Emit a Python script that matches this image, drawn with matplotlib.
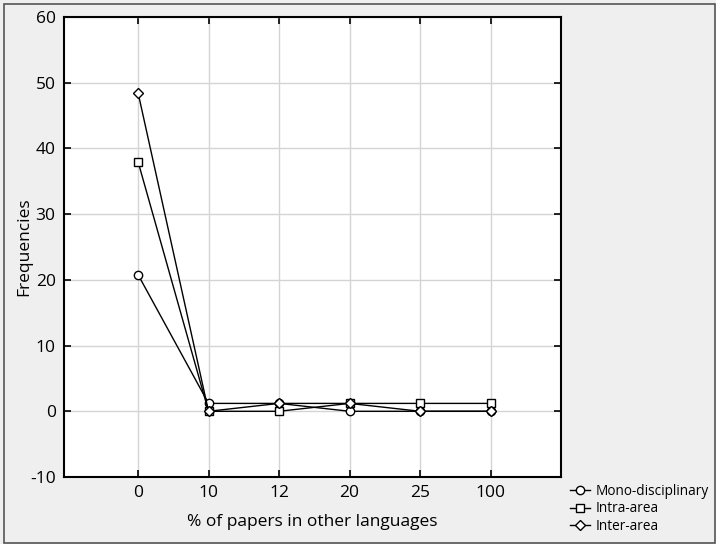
import matplotlib
matplotlib.use("Agg")
import matplotlib.pyplot as plt
from matplotlib.patches import Rectangle

categories = ["0", "10", "12", "20", "25", "100"]
mono = [20.8, 1.2, 1.2, 0.0, 0.0, 0.0]
intra = [38.0, 0.0, 0.0, 1.2, 1.2, 1.2]
inter = [48.5, 0.0, 1.2, 1.2, 0.0, 0.0]
yticks = [-10, 0, 10, 20, 30, 40, 50, 60]

plt.rcParams['font.family'] = ['Open Sans', 'DejaVu Sans']
plt.rcParams['axes.unicode_minus'] = False

fig = plt.figure(figsize=(7.16, 5.44), dpi=100)
fig.patch.set_facecolor('#efefef')
fig.patches.append(Rectangle((4/716, 1/544), 711/716, 539/544, transform=fig.transFigure,
                             fill=False, edgecolor='#555555', linewidth=1.2))

ax = fig.add_axes([64/716, 1 - 477/544, (561-64)/716, (477-17)/544])
ax.set_facecolor('white')
x = list(range(len(categories)))
kw = dict(color='black', linewidth=1.0, markerfacecolor='white', markeredgecolor='black',
          markersize=6, markeredgewidth=1.0)
ax.plot(x, mono, marker='o', label='Mono-disciplinary', **kw)
ax.plot(x, intra, marker='s', label='Intra-area', **kw)
ax.plot(x, inter, marker='D', label='Inter-area', **{**kw, 'markersize': 5})

ax.set_xlim(-1.05, 6.0)
ax.set_ylim(-10, 60)
ax.set_xticks(x)
ax.set_xticklabels(categories)
ax.set_yticks(yticks)
ax.grid(True, color='#d4d4d4', linewidth=1.0)
ax.set_axisbelow(True)
ax.tick_params(direction='in', top=True, right=True, length=5, width=1.2, labelsize=12.5, pad=6)
for s in ax.spines.values():
    s.set_linewidth(1.5)
ax.set_xlabel('% of papers in other languages', fontsize=12.5, labelpad=9)
ax.set_ylabel('Frequencies', fontsize=12.5, labelpad=-2)

leg = ax.legend(loc='lower left', bbox_to_anchor=(570/716, 10/544), bbox_transform=fig.transFigure,
                frameon=False, fontsize=9.8, handlelength=1.5, handletextpad=0.4, labelspacing=0.2,
                borderpad=0, borderaxespad=0)

fig.savefig('out.png', dpi=100, facecolor=fig.get_facecolor())
